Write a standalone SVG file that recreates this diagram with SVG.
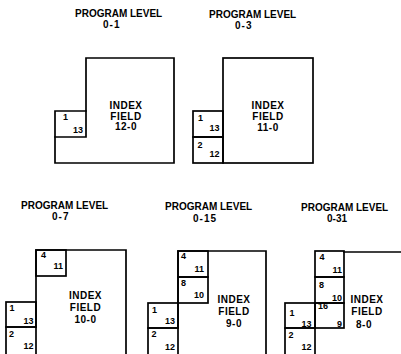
<svg xmlns="http://www.w3.org/2000/svg" width="401" height="354" viewBox="0 0 401 354">
<style>
  .ln { fill: none; stroke: #000; stroke-width: 1.7; stroke-linejoin: miter; stroke-linecap: square; }
  .t { font-family: "Liberation Sans", Arial, sans-serif; font-weight: bold; font-size: 10px; fill: #000; }
  .lv { letter-spacing: 1px; }
  .f { font-family: "Liberation Sans", Arial, sans-serif; font-weight: bold; font-size: 10px; fill: #000; text-anchor: middle; letter-spacing: 0.5px; }
  .n { font-family: "Liberation Sans", Arial, sans-serif; font-weight: bold; font-size: 9px; fill: #000; }
  .r { text-anchor: end; }
</style>
<rect width="401" height="354" fill="#fff"/>

<g id="level-0-1">
  <text class="t" x="75" y="17">PROGRAM LEVEL</text>
  <text class="t lv" x="103" y="28">0-1</text>
  <path class="ln" d="M86,58 H174 V163 H55 V111 H86 Z"/>
  <path class="ln" d="M55,137 H86 V111"/>
  <text class="n" x="63" y="120">1</text>
  <text class="n r" x="83" y="133">13</text>
  <text class="f" x="126" y="109">INDEX</text>
  <text class="f" x="126" y="119.5">FIELD</text>
  <text class="f" x="126" y="130">12-0</text>
</g>

<g id="level-0-3">
  <text class="t" x="209" y="17.5">PROGRAM LEVEL</text>
  <text class="t lv" x="235" y="29">0-3</text>
  <rect class="ln" x="223" y="58" width="90" height="105"/>
  <rect class="ln" x="193" y="111" width="30" height="26"/>
  <rect class="ln" x="193" y="137" width="30" height="26"/>
  <text class="n" x="198" y="121">1</text>
  <text class="n r" x="219.5" y="131">13</text>
  <text class="n" x="197.5" y="148">2</text>
  <text class="n r" x="219.5" y="157">12</text>
  <text class="f" x="268" y="108.5">INDEX</text>
  <text class="f" x="268" y="120">FIELD</text>
  <text class="f" x="268" y="130.5">11-0</text>
</g>

<g id="level-0-7">
  <text class="t" x="21" y="209">PROGRAM LEVEL</text>
  <text class="t lv" x="52" y="220">0-7</text>
  <path class="ln" d="M36,356 V250 H126 V356"/>
  <rect class="ln" x="36" y="250" width="30" height="26"/>
  <rect class="ln" x="6" y="302" width="30" height="25"/>
  <path class="ln" d="M6,356 V327 H36"/>
  <text class="n" x="41" y="257.5">4</text>
  <text class="n r" x="63" y="268.5">11</text>
  <text class="n" x="9.5" y="311">1</text>
  <text class="n r" x="33.5" y="323.5">13</text>
  <text class="n" x="9" y="337">2</text>
  <text class="n r" x="33.5" y="348.5">12</text>
  <text class="f" x="85.5" y="298.5">INDEX</text>
  <text class="f" x="85.5" y="310.7">FIELD</text>
  <text class="f" x="85.5" y="323.3">10-0</text>
</g>

<g id="level-0-15">
  <text class="t" x="165" y="210">PROGRAM LEVEL</text>
  <text class="t lv" x="193" y="222">0-15</text>
  <path class="ln" d="M178,356 V251 H266 V356"/>
  <rect class="ln" x="178" y="251" width="30" height="26"/>
  <rect class="ln" x="178" y="277" width="30" height="26"/>
  <rect class="ln" x="148" y="303" width="30" height="25"/>
  <path class="ln" d="M148,356 V328 H178"/>
  <text class="n" x="181" y="258.5">4</text>
  <text class="n r" x="204" y="272">11</text>
  <text class="n" x="181" y="286">8</text>
  <text class="n r" x="204" y="297.5">10</text>
  <text class="n" x="152" y="313">1</text>
  <text class="n r" x="175" y="324">13</text>
  <text class="n" x="151.5" y="337">2</text>
  <text class="n r" x="175" y="350">12</text>
  <text class="f" x="234" y="303">INDEX</text>
  <text class="f" x="234" y="314.5">FIELD</text>
  <text class="f" x="234" y="326.7">9-0</text>
</g>

<g id="level-0-31">
  <text class="t" x="301" y="211">PROGRAM LEVEL</text>
  <text class="t" x="327" y="222">0-31</text>
  <path class="ln" d="M344,252 H403"/>
  <rect class="ln" x="315" y="251" width="29" height="26"/>
  <rect class="ln" x="315" y="277" width="29" height="26"/>
  <rect class="ln" x="315" y="303" width="29" height="25"/>
  <path class="ln" d="M315,328 V356"/>
  <rect class="ln" x="285" y="303" width="30" height="25"/>
  <path class="ln" d="M285,356 V328 H315"/>
  <text class="n" x="319.5" y="260">4</text>
  <text class="n r" x="342" y="272.7">11</text>
  <text class="n" x="319" y="288">8</text>
  <text class="n r" x="342" y="300.5">10</text>
  <text class="n" x="318" y="308.5">16</text>
  <text class="n r" x="342" y="326.5">9</text>
  <text class="n" x="289.5" y="316">1</text>
  <text class="n r" x="311.5" y="326.7">13</text>
  <text class="n" x="288.5" y="338">2</text>
  <text class="n r" x="311.5" y="350">12</text>
  <text class="f" x="367" y="303.3">INDEX</text>
  <text class="f" x="367" y="315">FIELD</text>
  <text class="f" x="364" y="328">8-0</text>
</g>

<g id="connectors"></g>
</svg>
